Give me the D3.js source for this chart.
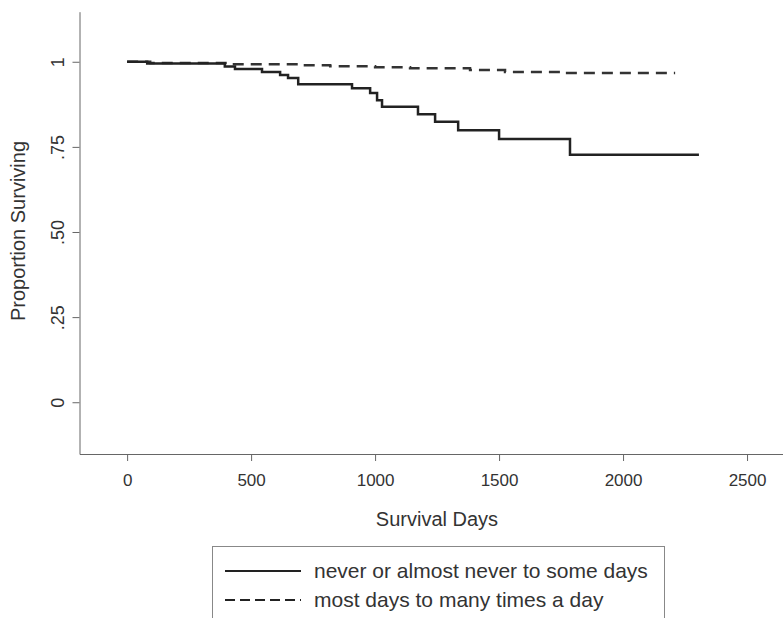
<!DOCTYPE html>
<html>
<head>
<meta charset="utf-8">
<script src="https://cdn.jsdelivr.net/npm/d3@7"></script>
<style>
  body { margin: 0; background: #fff; }
  svg { display: block; font-family: "Liberation Sans", Arial, sans-serif; }
  .axis path, .axis line { stroke: #666; }
  .axis text { fill: #333; }
</style>
</head>
<body>
<script>
// Kaplan-Meier steps
const groupNames = ['never or almost never to some days', 'most days to many times a day'];
const solidDays = [0, 81, 394, 435, 544, 617, 649, 690, 907, 980, 1008, 1028, 1173, 1242, 1335, 1500, 1786, 2306];
const solidSurv = [1, 0.995, 0.986, 0.979, 0.970, 0.961, 0.952, 0.934, 0.922, 0.908, 0.887, 0.868, 0.846, 0.824, 0.799, 0.773, 0.727, 0.727];
const dashDays = [0, 93, 415, 698, 819, 1000, 1141, 1383, 1524, 1746, 2210];
const dashSurv = [1, 0.996, 0.993, 0.990, 0.987, 0.984, 0.981, 0.976, 0.970, 0.967, 0.967];
const xTicks = [0, 500, 1000, 1500, 2000, 2500];
const yTicks = [0, 0.25, 0.5, 0.75, 1];
const yTickLabels = ['0', '.25', '.50', '.75', '1'];

const width = 783;
const height = 618;

const svg = d3.select('body')
  .append('svg')
  .attr('width', width)
  .attr('height', height);

const x = d3.scaleLinear().domain([-192, 2645]).range([79.5, 783]);
const y = d3.scaleLinear().domain([-0.152, 1.147]).range([454, 11.7]);

// axes
const xAxis = svg.append('g')
  .attr('class', 'axis')
  .attr('transform', `translate(0,${ 454 })`)
  .call(d3.axisBottom(x).tickValues(xTicks).tickSize(7).tickSizeOuter(0).tickPadding(13).tickFormat(d3.format('d')));
xAxis.selectAll('text').style('font-size', '17px');

const yAxis = svg.append('g')
  .attr('class', 'axis')
  .attr('transform', `translate(${ 79.5 },0)`)
  .call(d3.axisLeft(y).tickValues(yTicks).tickSize(7).tickSizeOuter(0).tickFormat((d, i) => yTickLabels[i]));
yAxis.selectAll('text')
  .style('font-size', '18px')
  .attr('transform', 'rotate(-90)')
  .attr('x', 0)
  .attr('y', -16)
  .attr('dy', 0)
  .attr('text-anchor', 'middle');

svg.append('text')
  .attr('x', 437)
  .attr('y', 526)
  .attr('text-anchor', 'middle')
  .style('font-size', '20px')
  .style('fill', '#333')
  .text('Survival Days');

svg.append('text')
  .attr('transform', 'translate(25,231) rotate(-90)')
  .attr('text-anchor', 'middle')
  .style('font-size', '20px')
  .style('fill', '#333')
  .text('Proportion Surviving');

// curves
const line = d3.line()
  .x(d => x(d[0]))
  .y(d => y(d[1]))
  .curve(d3.curveStepAfter);

svg.append('path')
  .datum(dashDays.map((d, i) => [d, dashSurv[i]]))
  .attr('d', line)
  .attr('fill', 'none')
  .attr('stroke', '#333')
  .attr('stroke-width', 2.5)
  .attr('stroke-dasharray', '11,7');

svg.append('path')
  .datum(solidDays.map((d, i) => [d, solidSurv[i]]))
  .attr('d', line)
  .attr('fill', 'none')
  .attr('stroke', '#222')
  .attr('stroke-width', 2.5);

// legend
const legend = svg.append('g');
legend.append('rect')
  .attr('x', 212.5)
  .attr('y', 546.5)
  .attr('width', 452)
  .attr('height', 100)
  .attr('fill', '#fff')
  .attr('stroke', '#888');

groupNames.forEach((name, i) => {
  const ly = 571 + i * 29;
  legend.append('line')
    .attr('x1', 225).attr('x2', 301)
    .attr('y1', ly).attr('y2', ly)
    .attr('stroke', '#222')
    .attr('stroke-width', 2)
    .attr('stroke-dasharray', i ? '10,5' : null);
  legend.append('text')
    .attr('x', 314)
    .attr('y', ly + 7)
    .style('font-size', '21px')
    .style('fill', '#333')
    .text(name);
});
</script>
</body>
</html>
